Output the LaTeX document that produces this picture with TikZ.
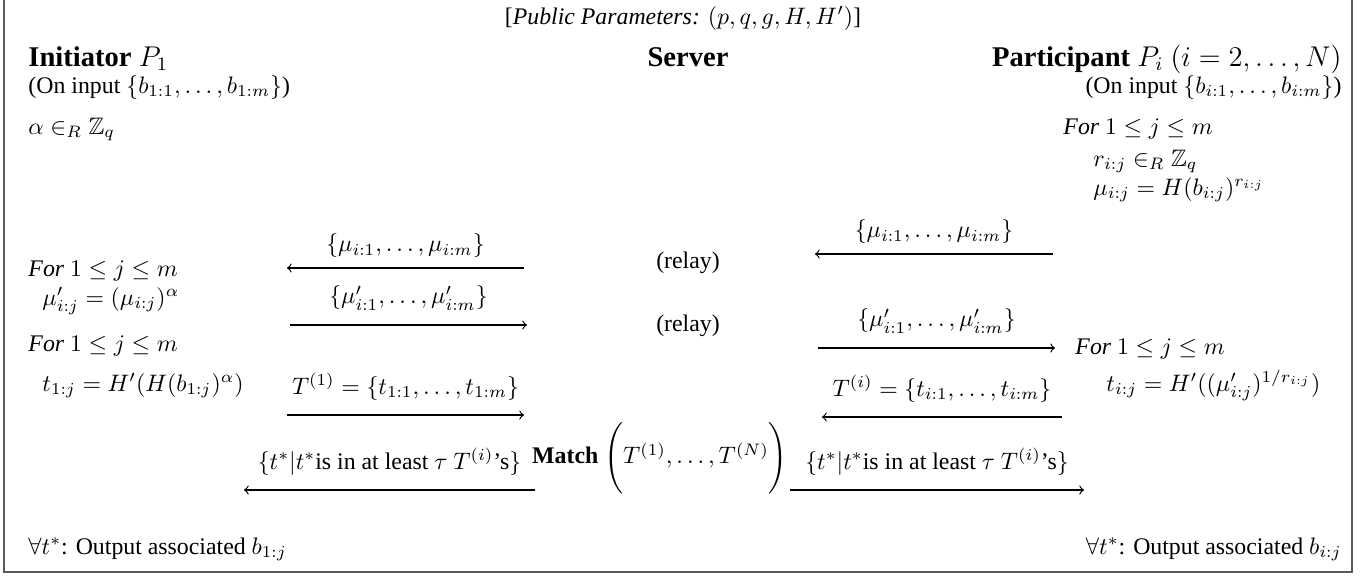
\documentclass[tikz,border=0pt]{standalone}
\usepackage{amsmath,amssymb}
\usepackage[no-math]{fontspec}
\setmainfont{Liberation Serif}
\begin{document}
\begin{tikzpicture}[x=0.42pt,y=-0.42pt,
  txt/.style={inner sep=0pt,anchor=base west},
  rtxt/.style={inner sep=0pt,anchor=base east},
  ctxt/.style={inner sep=0pt,anchor=base},
  head/.style={inner sep=0pt,font=\large\bfseries},
  lbl/.style={above=6pt,inner sep=0pt},
  msg/.style={->,line width=0.5pt},
  frame/.style={draw=black!65,line width=0.8pt}]
\useasboundingbox (0,0) rectangle (1367,575);
\draw[frame] (4,0) -- (4,572) -- (1352,572) -- (1352,0);
% title
\node[ctxt] (title) at (683,24) {[\textit{Public Parameters:} $(p,q,g,H,H')$]};
% headings
\node[head,anchor=base west] (init) at (28,66) {Initiator \mdseries$P_1$};
\node[head,anchor=base] (server) at (688,66) {Server};
\node[head,anchor=base east] (part) at (1342,66) {Participant \mdseries$P_i$ $(i=2,\ldots,N)$};
\node[txt] (in1) at (28,93) {(On input $\{b_{1:1},\ldots,b_{1:m}\}$)};
\node[rtxt] (ini) at (1342,93) {(On input $\{b_{i:1},\ldots,b_{i:m}\}$)};
% left column
\node[txt] (alpha) at (28,134) {$\alpha\in_R\mathbb{Z}_q$};
\node[txt] (for1) at (28,276) {\textit{For} $1\le j\le m$};
\node[txt] (mup) at (42,305) {$\mu'_{i:j}=(\mu_{i:j})^\alpha$};
\node[txt] (for2) at (28,351) {\textit{For} $1\le j\le m$};
\node[txt] (t1) at (42,391) {$t_{1:j}=H'(H(b_{1:j})^\alpha)$};
% right column
\node[txt] (forr1) at (1063,134) {\textit{For} $1\le j\le m$};
\node[txt] (rij) at (1093,166) {$r_{i:j}\in_R\mathbb{Z}_q$};
\node[txt] (muij) at (1093,195) {$\mu_{i:j}=H(b_{i:j})^{r_{i:j}}$};
\node[txt] (forr2) at (1075,354) {\textit{For} $1\le j\le m$};
\node[txt] (tij) at (1106,391) {$t_{i:j}=H'((\mu'_{i:j})^{1/r_{i:j}})$};
% server
\node[ctxt] (relay1) at (688,268) {(relay)};
\node[ctxt] (relay2) at (688,331) {(relay)};
\node[inner sep=0pt] (match) at (660,458) {\textbf{Match} $\Biggl(T^{(1)},\ldots,T^{(N)}\Biggr)$};
% messages
\coordinate (r1a) at (1053,254); \coordinate (r1b) at (815,254);
\draw[msg] (r1a) -- node[above=4pt,inner sep=0pt] {$\{\mu_{i:1},\ldots,\mu_{i:m}\}$} (r1b);
\coordinate (l1a) at (524,268); \coordinate (l1b) at (287,268);
\draw[msg] (l1a) -- node[above=4pt,inner sep=0pt] {$\{\mu_{i:1},\ldots,\mu_{i:m}\}$} (l1b);
\coordinate (l2a) at (290,325); \coordinate (l2b) at (527,325);
\draw[msg] (l2a) -- node[lbl] {$\{\mu'_{i:1},\ldots,\mu'_{i:m}\}$} (l2b);
\coordinate (r2a) at (818,348); \coordinate (r2b) at (1055,348);
\draw[msg] (r2a) -- node[lbl] {$\{\mu'_{i:1},\ldots,\mu'_{i:m}\}$} (r2b);
\coordinate (l3a) at (287,415); \coordinate (l3b) at (524,415);
\draw[msg] (l3a) -- node[lbl] {$T^{(1)}=\{t_{1:1},\ldots,t_{1:m}\}$} (l3b);
\coordinate (r3a) at (1062,417); \coordinate (r3b) at (822,417);
\draw[msg] (r3a) -- node[lbl] {$T^{(i)}=\{t_{i:1},\ldots,t_{i:m}\}$} (r3b);
\coordinate (l4a) at (535,490); \coordinate (l4b) at (244,490);
\draw[msg] (l4a) -- node[lbl] {$\{t^*|t^*$is in at least $\tau$ $T^{(i)}$'s$\}$} (l4b);
\coordinate (r4a) at (790,490); \coordinate (r4b) at (1084,490);
\draw[msg] (r4a) -- node[lbl] {$\{t^*|t^*$is in at least $\tau$ $T^{(i)}$'s$\}$} (r4b);
% outputs
\node[txt] (out1) at (28,554) {$\forall t^*$: Output associated $b_{1:j}$};
\node[rtxt] (outi) at (1342,554) {$\forall t^*$: Output associated $b_{i:j}$};
\end{tikzpicture}
\end{document}
